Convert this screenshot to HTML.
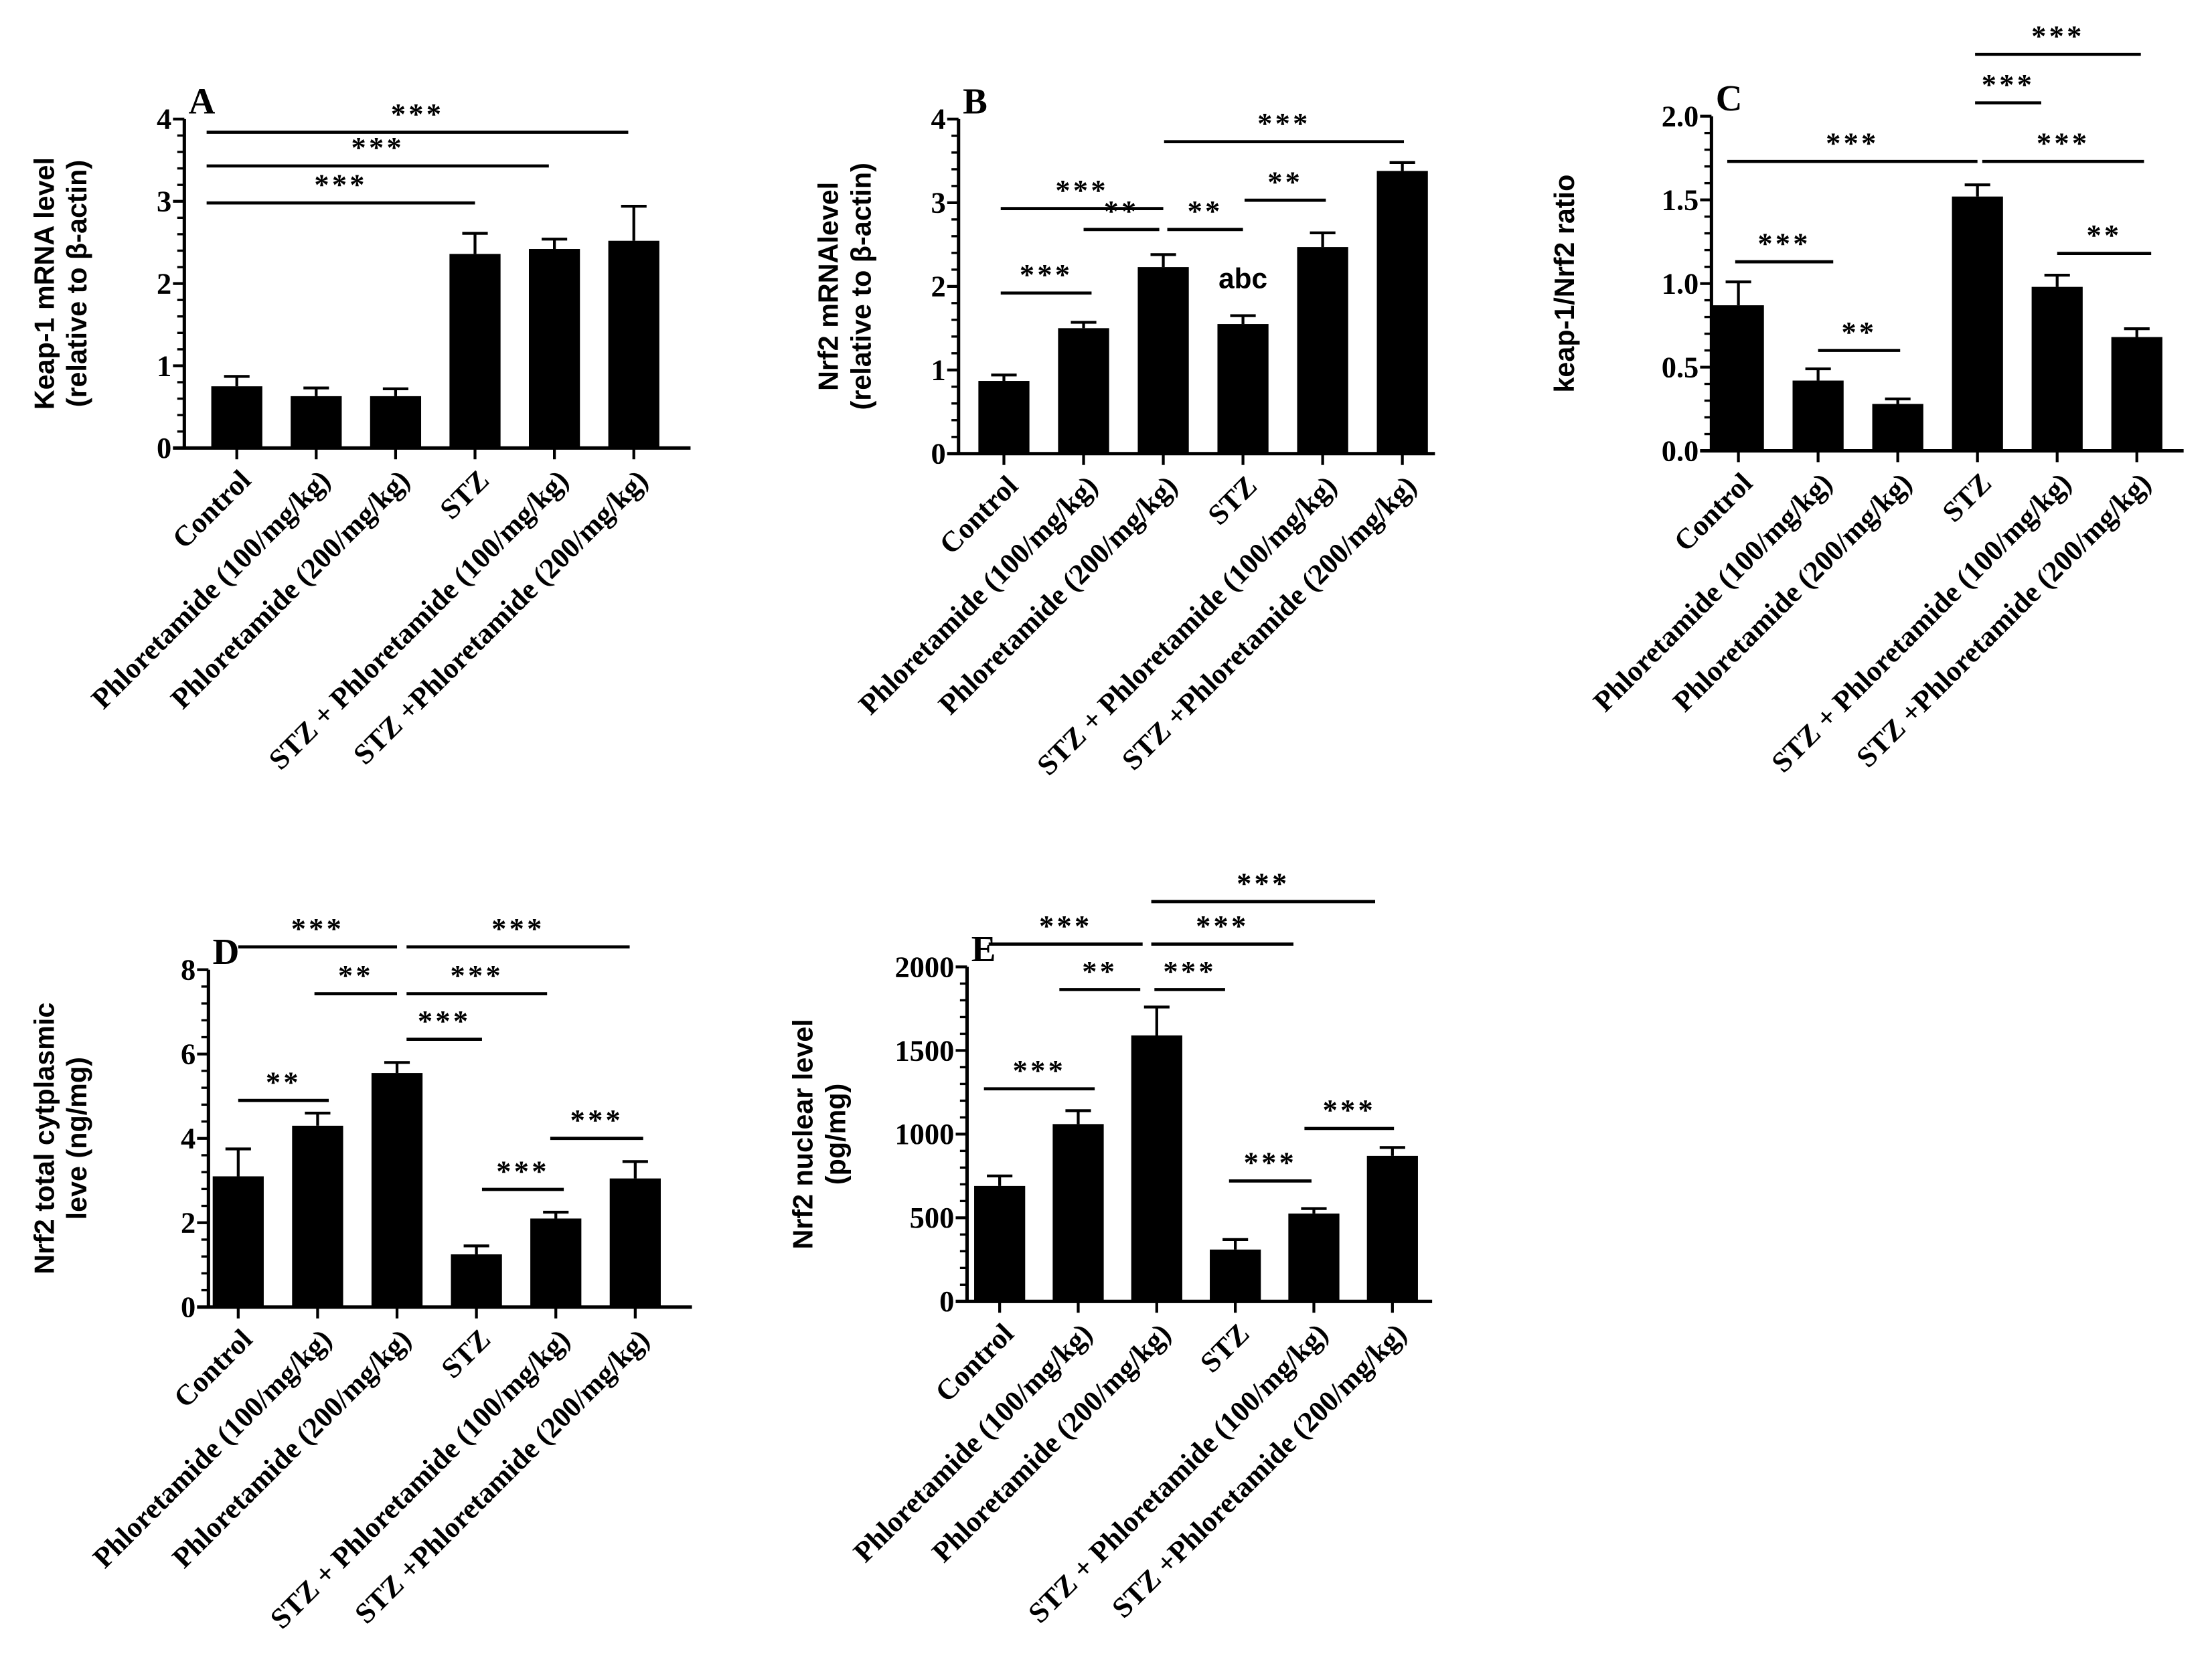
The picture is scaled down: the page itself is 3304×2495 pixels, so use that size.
<!DOCTYPE html>
<html><head><meta charset="utf-8">
<style>
html,body{margin:0;padding:0;background:#fff;}
svg{display:block;}
.tk{font-family:"Liberation Serif",serif;font-weight:bold;font-size:21px;}
.cat{font-family:"Liberation Serif",serif;font-weight:bold;font-size:20.5px;}
.yt{font-family:"Liberation Sans",sans-serif;font-weight:bold;font-size:19.5px;}
.let{font-family:"Liberation Serif",serif;font-weight:bold;font-size:26px;}
.st{font-family:"Liberation Serif",serif;font-weight:bold;font-size:21px;letter-spacing:2px;}
</style></head>
<body>
<svg id="fig" width="3304" height="2495" viewBox="0 0 1560 1178" preserveAspectRatio="none" xmlns="http://www.w3.org/2000/svg"></svg>
<script>
const categories = ["Control","Phloretamide (100/mg/kg)","Phloretamide (200/mg/kg)","STZ","STZ + Phloretamide (100/mg/kg)","STZ +Phloretamide (200/mg/kg)"];
const valuesA = [0.75,0.63,0.63,2.36,2.42,2.52];
const errorsA = [0.12,0.1,0.09,0.25,0.12,0.42];
const ticksA = ["0","1","2","3","4"];
const valuesB = [0.87,1.5,2.23,1.55,2.47,3.38];
const errorsB = [0.07,0.07,0.15,0.1,0.17,0.1];
const ticksB = ["0","1","2","3","4"];
const valuesC = [0.87,0.42,0.28,1.52,0.98,0.68];
const errorsC = [0.14,0.07,0.03,0.07,0.07,0.05];
const ticksC = ["0.0","0.5","1.0","1.5","2.0"];
const valuesD = [3.1,4.3,5.55,1.25,2.1,3.05];
const errorsD = [0.65,0.3,0.25,0.2,0.15,0.4];
const ticksD = ["0","2","4","6","8"];
const valuesE = [690,1060,1590,310,525,870];
const errorsE = [60,80,170,60,30,50];
const ticksE = ["0","500","1000","1500","2000"];
// significance: [from (bar index), to (bar index), yValue, label]
const sigA = [[-0.38,4.93,3.84,"***"],[-0.38,3.93,3.43,"***"],[-0.38,3.0,2.98,"***"]];
const sigB = [[2.01,5.02,3.73,"***"],[-0.04,2.0,2.93,"***"],[1.0,1.95,2.68,"**"],[2.05,3.0,2.68,"**"],[3.02,4.04,3.03,"**"],[-0.04,1.1,1.92,"***"]];
const sigC = [[-0.14,3.0,1.73,"***"],[3.06,5.09,1.73,"***"],[2.97,5.05,2.37,"***"],[2.97,3.8,2.08,"***"],[-0.04,1.19,1.13,"***"],[1.0,2.03,0.6,"**"],[4.0,5.18,1.18,"**"]];
const sigD = [[0,2.0,8.54,"***"],[2.12,4.93,8.54,"***"],[0.96,2.0,7.43,"**"],[2.12,3.89,7.43,"***"],[2.12,3.07,6.35,"***"],[0,1.14,4.9,"**"],[3.07,4.1,2.79,"***"],[3.93,5.1,4.0,"***"]];
const sigE = [[-0.14,1.82,2136,"***"],[1.93,3.74,2136,"***"],[1.93,4.78,2390,"***"],[0.76,1.79,1864,"**"],[1.97,2.87,1864,"***"],[-0.2,1.21,1271,"***"],[3.88,5.02,1034,"***"],[2.92,3.97,720,"***"]];

const NS="http://www.w3.org/2000/svg";
const svg=document.getElementById('fig');
function mk(tag,attrs,parent,text){const e=document.createElementNS(NS,tag);for(const k in attrs)e.setAttribute(k,attrs[k]);if(text!==undefined)e.textContent=text;(parent||svg).appendChild(e);return e;}

function panel(o){
  const g=mk('g',{});
  
  
  const ymax=o.ymax;
  const yS=v=>o.y0-(v/ymax)*(o.y0-o.ytop);
  const xS=i=>o.x1+o.step*i;
  const ya=mk('line',{x1:o.ax,y1:o.y0,x2:o.ax,y2:o.ytop,stroke:'#000','stroke-width':2.4},g);
  
  const xa=mk('line',{x1:o.ax-8,y1:o.y0,x2:o.xend,y2:o.y0,stroke:'#000','stroke-width':2.4},g);
  
  const nt=o.ticks.length-1;
  for(let t=0;t<=nt;t++){
    const v=ymax*t/nt, y=yS(v);
    mk('line',{x1:o.ax-8,y1:y,x2:o.ax,y2:y,stroke:'#000','stroke-width':2},g);
    const tl=mk('text',{x:o.ax-9,y:y+7,'text-anchor':'end',class:'tk'},g,o.ticks[t]);
    
    if(t<nt){for(let m=1;m<5;m++){const ym=yS(v+ymax/nt*m/5);mk('line',{x1:o.ax-5,y1:ym,x2:o.ax,y2:ym,stroke:'#000','stroke-width':1.6},g);}}
  }
  const bw=36;
  o.values.forEach((v,i)=>{
    const cx=xS(i), top=yS(v), et=yS(v+o.errors[i]);
    mk('line',{x1:cx,y1:top,x2:cx,y2:et,stroke:'#000','stroke-width':2},g);
    mk('line',{x1:cx-9,y1:et,x2:cx+9,y2:et,stroke:'#000','stroke-width':2},g);
    const b=mk('rect',{x:cx-bw/2,y:top,width:bw,height:o.y0-top,fill:'#000'},g);
    
    
    mk('line',{x1:cx,y1:o.y0,x2:cx,y2:o.y0+8,stroke:'#000','stroke-width':2},g);
    const c=mk('text',{x:0,y:0,'text-anchor':'end',class:'cat',transform:`translate(${cx+11},${o.y0+24}) rotate(-45)`},g,categories[i]);
    
  });
  o.sig.forEach(s=>{
    const y=yS(s[2]);
    const l=mk('line',{x1:xS(s[0]),y1:y,x2:xS(s[1]),y2:y,stroke:'#000','stroke-width':2.2},g);
    
    const t=mk('text',{x:(xS(s[0])+xS(s[1]))/2,y:y-6,'text-anchor':'middle',class:'st'},g,s[3]);
    
  });
  if(o.extra){const ex=mk('text',{x:xS(o.extra.i),y:yS(o.extra.v),'text-anchor':'middle',style:'font-family:Liberation Sans,sans-serif;font-weight:bold;font-size:20px'},g,o.extra.t);}
  const L=mk('text',{x:o.ax+3,y:o.ytop-4,class:'let'},g,o.letter);
  
  const cy=(o.y0+o.ytop)/2;
  const yt=mk('text',{x:0,y:0,'text-anchor':'middle',class:'yt',transform:`translate(${o.tx},${cy}) rotate(-90)`},g);
  
  mk('tspan',{x:0,dy:0},yt,o.title[0]);
  mk('tspan',{x:0,dy:23},yt,o.title[1]);
}
panel({letter:'A',values:valuesA,errors:errorsA,ticks:ticksA,sig:sigA,ymax:4,ax:130,y0:316,ytop:84,x1:167,step:56,xend:487,tx:38,title:['Keap-1 mRNA level','(relative to \u03b2-actin)']});
panel({letter:'B',values:valuesB,errors:errorsB,ticks:ticksB,sig:sigB,ymax:4,ax:676,y0:320,ytop:84,x1:708,step:56.2,xend:1012,tx:591,title:['Nrf2 mRNAlevel','(relative to \u03b2-actin)'],extra:{i:3,v:1.98,t:'abc'}});
panel({letter:'C',values:valuesC,errors:errorsC,ticks:ticksC,sig:sigC,ymax:2,ax:1207,y0:318,ytop:82,x1:1226,step:56.2,xend:1540,tx:1110,title:['keap-1/Nrf2 ratio','']});
panel({letter:'D',values:valuesD,errors:errorsD,ticks:ticksD,sig:sigD,ymax:8,ax:147,y0:922,ytop:684,x1:168,step:56,xend:488,tx:38,title:['Nrf2 total cytplasmic','leve (ng/mg)']});
panel({letter:'E',values:valuesE,errors:errorsE,ticks:ticksE,sig:sigE,ymax:2000,ax:682,y0:918,ytop:682,x1:705,step:55.4,xend:1010,tx:573,title:['Nrf2 nuclear level','(pg/mg)']});
</script>
</body></html>
